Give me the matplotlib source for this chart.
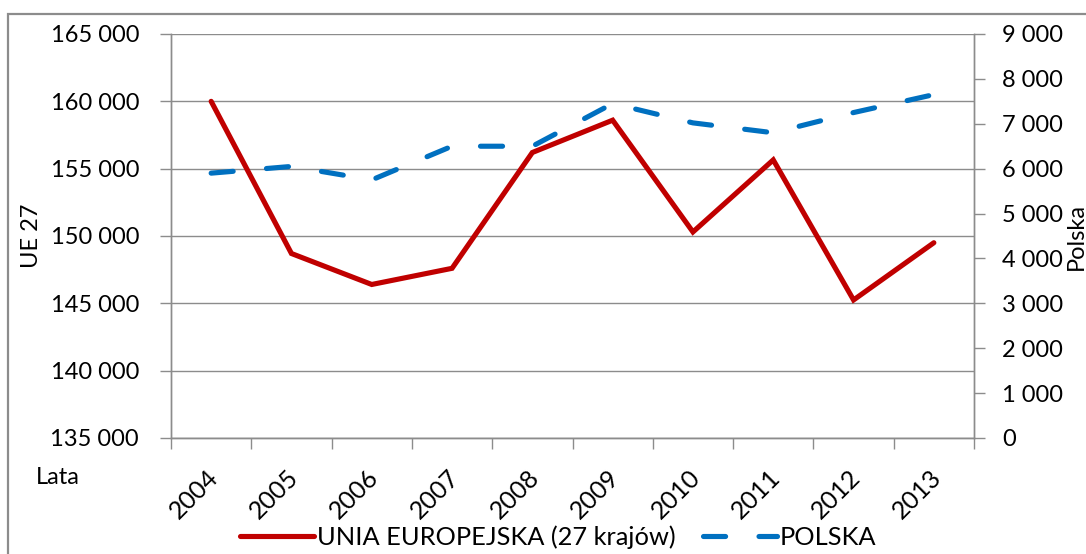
import matplotlib
matplotlib.use('Agg')
from matplotlib import pyplot as plt
from matplotlib.patches import Rectangle
from matplotlib.ticker import FuncFormatter, MultipleLocator
import numpy as np

plt.rcParams['font.family'] = ['Lato', 'DejaVu Sans']

years = ['2004', '2005', '2006', '2007', '2008', '2009', '2010', '2011', '2012', '2013']
ue27 = [160000, 148700, 146400, 147600, 156200, 158600, 150300, 155650, 145250, 149500]
polska = [5900, 6050, 5750, 6500, 6500, 7450, 7020, 6800, 7250, 7650]

red = '#C00000'
blue = '#0070C0'
grid_c = '#8c8c8c'
fs = 17


def fmt(v, pos):
    return '{:,}'.format(int(round(v))).replace(',', ' ')


fig = plt.figure(figsize=(10.86, 5.54), dpi=100)
ax = fig.add_axes([171 / 1086, 1 - 438 / 554, (974 - 171) / 1086, (438 - 34) / 554])
ax2 = ax.twinx()

x = np.arange(len(years))
l1, = ax.plot(x, ue27, color=red, lw=3.7, solid_capstyle='round', solid_joinstyle='miter',
              label='UNIA EUROPEJSKA (27 krajów)', zorder=3)
l2, = ax2.plot(x, polska, color=blue, lw=3.7, dashes=(4.3, 6.5), dash_capstyle='round',
               label='POLSKA', zorder=3)

ax.set_xlim(-0.5, len(years) - 0.5)
ax.set_ylim(135000, 165000)
ax2.set_ylim(0, 9000)
ax.yaxis.set_major_locator(MultipleLocator(5000))
ax2.yaxis.set_major_locator(MultipleLocator(1000))
ax.yaxis.set_major_formatter(FuncFormatter(fmt))
ax2.yaxis.set_major_formatter(FuncFormatter(fmt))

# boundaries get the tick marks, centres get the labels
ax.set_xticks(np.arange(len(years) + 1) - 0.5)
ax.set_xticklabels([])
ax.set_xticks(x - 0.06, minor=True)
ax.set_xticklabels(years, minor=True, rotation=45, ha='right', rotation_mode='anchor', fontsize=18)
ax.tick_params(axis='x', which='minor', length=0, pad=20)
ax.tick_params(axis='x', which='major', length=8, color=grid_c, width=1)

ax.grid(axis='y', color=grid_c, lw=1)
ax.set_axisbelow(True)
ax.tick_params(axis='y', length=8, color=grid_c, width=1, pad=15, labelsize=fs)
ax2.tick_params(axis='y', length=8, color=grid_c, width=1, pad=12, labelsize=fs)

for a in (ax, ax2):
    a.spines['top'].set_visible(False)
    for s in ('left', 'right', 'bottom'):
        a.spines[s].set_color(grid_c)
        a.spines[s].set_linewidth(1)

ax.set_ylabel('UE 27', fontsize=fs, labelpad=6)
ax2.set_ylabel('Polska', fontsize=fs, labelpad=2)

fig.text(36 / 1086, 1 - 477 / 554, 'Lata', fontsize=fs, ha='left', va='center')

fig.legend(handles=[l1, l2], loc='center', bbox_to_anchor=(0.514, 0.031), ncol=2, frameon=False,
           fontsize=18.3, handlelength=2.9, handletextpad=0.1, columnspacing=1.1, borderpad=0)

fig.patches.append(Rectangle((8 / 1086, -0.2), 1.2, 1.2 - 14 / 554, transform=fig.transFigure,
                             fill=False, edgecolor='#8c8c8c', lw=1.6))

fig.savefig('out.png', dpi=100)
